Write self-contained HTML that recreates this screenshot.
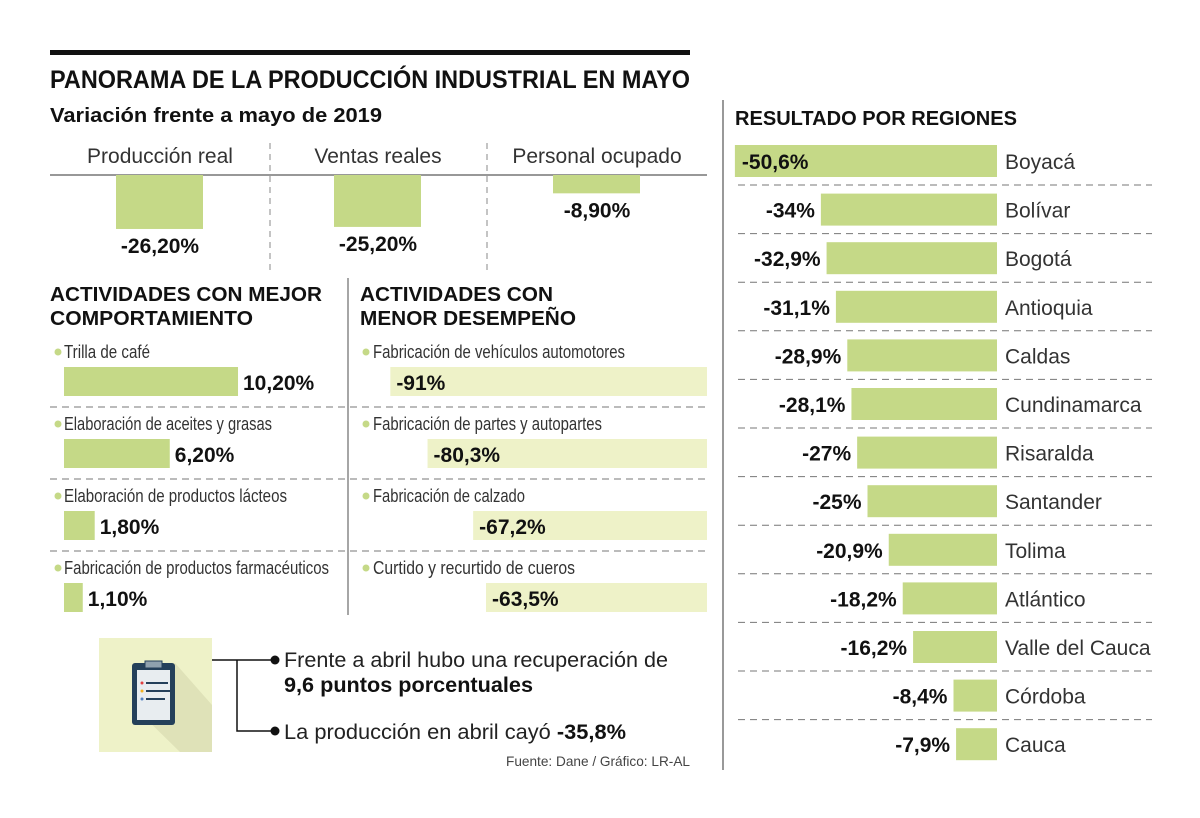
<!DOCTYPE html>
<html><head><meta charset="utf-8"><style>
html,body{margin:0;padding:0;background:#fff}
svg{display:block;font-family:"Liberation Sans",sans-serif}
</style></head><body>
<svg id="chart" width="1200" height="818" viewBox="0 0 1200 818" xmlns="http://www.w3.org/2000/svg">
<rect x="50" y="50" width="640" height="5" fill="#111"/>
<text x="50" y="88" font-size="25" font-weight="bold" fill="#111" textLength="640" lengthAdjust="spacingAndGlyphs">PANORAMA DE LA PRODUCCIÓN INDUSTRIAL EN MAYO</text>
<text x="50" y="122" font-size="20" font-weight="bold" fill="#111" textLength="332" lengthAdjust="spacingAndGlyphs">Variación frente a mayo de 2019</text>
<line x1="723" y1="100" x2="723" y2="770" stroke="#999" stroke-width="2"/>
<text x="735" y="125" font-size="20" font-weight="bold" fill="#111" textLength="282" lengthAdjust="spacingAndGlyphs">RESULTADO POR REGIONES</text>
<g id="top"></g>
<g id="acts"></g>
<g id="regions"></g>
<g>
<rect x="99" y="638" width="113" height="114" fill="#eef2c8"/>
<polygon points="175,663 212,705 212,752 180,752 132,705" fill="#dfe2b8"/>
<rect x="132" y="663" width="43" height="62" rx="3" fill="#24405a"/>
<rect x="137" y="670" width="33" height="50" fill="#e8edf0"/>
<rect x="145" y="661" width="17" height="7" fill="#8fa1ae" stroke="#24405a"/>
<circle cx="142" cy="683" r="1.5" fill="#e04040"/><line x1="146" y1="683" x2="168" y2="683" stroke="#24405a" stroke-width="2"/>
<circle cx="142" cy="691" r="1.5" fill="#f0b020"/><line x1="146" y1="691" x2="170" y2="691" stroke="#24405a" stroke-width="2"/>
<circle cx="142" cy="699" r="1.5" fill="#5080c0"/><line x1="146" y1="699" x2="165" y2="699" stroke="#24405a" stroke-width="2"/>
<polyline points="212,660 275,660" fill="none" stroke="#111" stroke-width="1.5"/>
<polyline points="237,660 237,731 275,731" fill="none" stroke="#111" stroke-width="1.5"/>
<circle cx="275" cy="660" r="4.5" fill="#111"/><circle cx="275" cy="731" r="4.5" fill="#111"/>
<text x="284" y="667" font-size="21" fill="#222" textLength="384" lengthAdjust="spacingAndGlyphs">Frente a abril hubo una recuperación de</text>
<text x="284" y="692" font-size="21" font-weight="bold" fill="#111" textLength="249" lengthAdjust="spacingAndGlyphs">9,6 puntos porcentuales</text>
<text x="284" y="739" font-size="21" fill="#222" textLength="342" lengthAdjust="spacingAndGlyphs">La producción en abril cayó <tspan font-weight="bold" fill="#111">-35,8%</tspan></text>
<text x="690" y="766" font-size="14" fill="#444" text-anchor="end" textLength="184" lengthAdjust="spacingAndGlyphs">Fuente: Dane / Gráfico: LR-AL</text>
</g>
</svg>
<script>
const NS="http://www.w3.org/2000/svg";
const topCats=["Producción real","Ventas reales","Personal ocupado"];
const topVals=[-26.2,-25.2,-8.9];
const topLabels=["-26,20%","-25,20%","-8,90%"];
const bestCats=["Trilla de café","Elaboración de aceites y grasas","Elaboración de productos lácteos","Fabricación de productos farmacéuticos"];
const bestVals=[10.2,6.2,1.8,1.1];
const bestLabels=["10,20%","6,20%","1,80%","1,10%"];
const worstCats=["Fabricación de vehículos automotores","Fabricación de partes y autopartes","Fabricación de calzado","Curtido y recurtido de cueros"];
const worstVals=[-91,-80.3,-67.2,-63.5];
const worstLabels=["-91%","-80,3%","-67,2%","-63,5%"];
const regCats=["Boyacá","Bolívar","Bogotá","Antioquia","Caldas","Cundinamarca","Risaralda","Santander","Tolima","Atlántico","Valle del Cauca","Córdoba","Cauca"];
const regVals=[-50.6,-34,-32.9,-31.1,-28.9,-28.1,-27,-25,-20.9,-18.2,-16.2,-8.4,-7.9];
const regLabels=["-50,6%","-34%","-32,9%","-31,1%","-28,9%","-28,1%","-27%","-25%","-20,9%","-18,2%","-16,2%","-8,4%","-7,9%"];

function mk(tag,attrs,parent,txt){const e=document.createElementNS(NS,tag);for(const k in attrs)e.setAttribute(k,attrs[k]);if(txt!=null)e.textContent=txt;parent.appendChild(e);return e;}
const GREEN="#c5d987",LIGHT="#eef2c8";

// top section
const gTop=document.getElementById('top');
const topY=v=>175+Math.abs(v)*2.06;
mk('line',{x1:50,y1:175,x2:707,y2:175,stroke:'#777','stroke-width':1.5},gTop);
[270,487].forEach(x=>{const l=mk('line',{x1:x,y1:143,x2:x,y2:270,stroke:'#888','stroke-dasharray':'6,5'},gTop);

});
const topCx=[160,378,597];
topCats.forEach((c,i)=>{
 const t=mk('text',{x:topCx[i],y:163,'font-size':21,fill:'#333','text-anchor':'middle'},gTop,c);
 
 
 const b=mk('rect',{x:topCx[i]-44,y:175,width:87,height:topY(topVals[i])-175,fill:GREEN},gTop);
 
 
 const v=mk('text',{x:topCx[i],y:topY(topVals[i])+24,'font-size':21,'font-weight':'bold',fill:'#111','text-anchor':'middle'},gTop,topLabels[i]);
 
 
});

// activities
const gA=document.getElementById('acts');
const h1=mk('text',{x:50,y:301,'font-size':20,'font-weight':'bold',fill:'#111',textLength:272,lengthAdjust:'spacingAndGlyphs'},gA,'ACTIVIDADES CON MEJOR');


const h1b=mk('text',{x:50,y:325,'font-size':20,'font-weight':'bold',fill:'#111',textLength:203,lengthAdjust:'spacingAndGlyphs'},gA,'COMPORTAMIENTO');


const h2=mk('text',{x:360,y:301,'font-size':20,'font-weight':'bold',fill:'#111',textLength:193,lengthAdjust:'spacingAndGlyphs'},gA,'ACTIVIDADES CON');


const h2b=mk('text',{x:360,y:325,'font-size':20,'font-weight':'bold',fill:'#111',textLength:216,lengthAdjust:'spacingAndGlyphs'},gA,'MENOR DESEMPEÑO');


mk('line',{x1:348,y1:278,x2:348,y2:615,stroke:'#888','stroke-width':1.5},gA);
const bestX=v=>64+v*17.06;
const worstX=v=>707-Math.abs(v)*3.48;
const catW=[86,208,223,265],wcatW=[252,229,152,202];
for(let i=0;i<4;i++){
 const y0=367+i*72;
 if(i<3){const s=mk('line',{x1:50,y1:y0+40,x2:707,y2:y0+40,stroke:'#777','stroke-dasharray':'7,5'},gA);
 
 }
 mk('circle',{cx:58,cy:y0-15,r:3.5,fill:GREEN},gA);
 const l=mk('text',{x:64,y:y0-9,'font-size':18,fill:'#333',textLength:catW[i],lengthAdjust:'spacingAndGlyphs'},gA,bestCats[i]);
 
 
 const b=mk('rect',{x:64,y:y0,width:bestX(bestVals[i])-64,height:29,fill:GREEN},gA);
 
 
 const v=mk('text',{x:bestX(bestVals[i])+5,y:y0+23,'font-size':21,'font-weight':'bold',fill:'#111'},gA,bestLabels[i]);
 
 
 mk('circle',{cx:366,cy:y0-15,r:3.5,fill:GREEN},gA);
 const l2=mk('text',{x:373,y:y0-9,'font-size':18,fill:'#333',textLength:wcatW[i],lengthAdjust:'spacingAndGlyphs'},gA,worstCats[i]);
 
 
 const wx=worstX(worstVals[i]);
 const b2=mk('rect',{x:wx,y:y0,width:707-wx,height:29,fill:LIGHT},gA);
 
 
 const v2=mk('text',{x:wx+6,y:y0+23,'font-size':21,'font-weight':'bold',fill:'#111'},gA,worstLabels[i]);
 
 
}

// regions
const gR=document.getElementById('regions');
const regX=v=>997-Math.abs(v)*5.18;
regCats.forEach((c,i)=>{
 const y0=145+i*48.6;
 if(i<regCats.length-1){const s=mk('line',{x1:738,y1:y0+40,x2:1152,y2:y0+40,stroke:'#777','stroke-dasharray':'7,5'},gR);
 
 }
 const x=regX(regVals[i]);
 const b=mk('rect',{x:x,y:y0,width:997-x,height:32,fill:GREEN},gR);
 
 
 const inside=Math.abs(regVals[i])>45;
 const v=mk('text',{x:inside?x+7:x-6,y:y0+24,'font-size':21,'font-weight':'bold',fill:'#111','text-anchor':inside?'start':'end'},gR,regLabels[i]);
 
 
 const l=mk('text',{x:1005,y:y0+24,'font-size':21,fill:'#333'},gR,c);
 
 
});
</script>
</body></html>
